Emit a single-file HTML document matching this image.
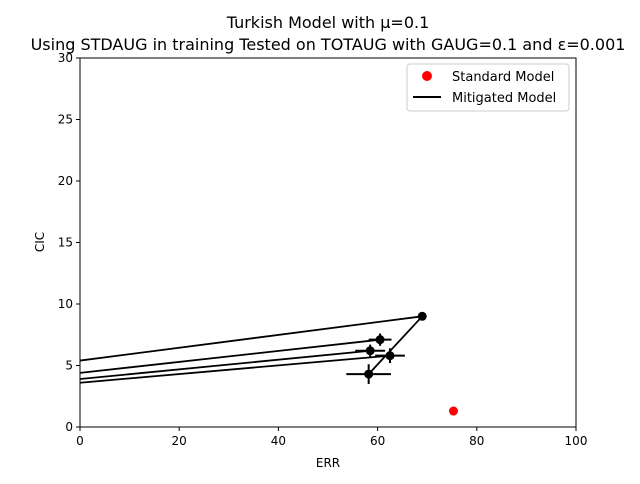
<!DOCTYPE html>
<html><head><meta charset="utf-8"><style>
body{margin:0;background:#fff;font-family:"DejaVu Sans","Liberation Sans",sans-serif}
svg text{font-family:"DejaVu Sans","Liberation Sans",sans-serif}
</style></head><body>
<svg id="c" width="640" height="480" xmlns="http://www.w3.org/2000/svg">
<rect width="640" height="480" fill="#fff"/>
<text x="328" y="28" text-anchor="middle" font-size="16">Turkish Model with μ=0.1</text>
<text x="328" y="50" text-anchor="middle" font-size="16">Using STDAUG in training Tested on TOTAUG with GAUG=0.1 and ε=0.001</text>
<defs><clipPath id="cp"><rect x="80" y="58" width="496" height="369"/></clipPath></defs>
<g id="plot" clip-path="url(#cp)"></g>
<g id="axes"></g>
<rect x="80" y="58" width="496" height="369" fill="none" stroke="#000" stroke-width="1"/>
<text x="328" y="467" text-anchor="middle" font-size="12">ERR</text>
<text transform="translate(44,242) rotate(-90)" text-anchor="middle" font-size="12">CIC</text>
<g>
<rect x="407" y="64" width="162" height="47" rx="3" fill="#fff" stroke="#ccc"/>
<circle cx="427" cy="76" r="5" fill="#ff0000"/>
<text x="452" y="81" font-size="13">Standard Model</text>
<line x1="413" y1="97" x2="441" y2="97" stroke="#000" stroke-width="2"/>
<text x="452" y="102" font-size="13">Mitigated Model</text>
</g>
</svg>
<script>
const xTicks=[0,20,40,60,80,100];
const yTicks=[0,5,10,15,20,25,30];
const segX1=[58.2,69,60.5,58.5,62.5];
const segY1=[4.3,9.0,7.1,6.2,5.8];
const segX2=[69,0,0,0,0];
const segY2=[9.0,5.4,4.4,3.9,3.6];
const ptX=[58.2,62.5,58.5,60.5,69];
const ptY=[4.3,5.8,6.2,7.1,9.0];
const errX=[4.5,3,3,2.3,0];
const errY=[0.8,0.6,0.5,0.5,0];
const stdX=[75.3];
const stdY=[1.3];
const sx=v=>80+v*4.96, sy=v=>427-v*12.3;
const NS="http://www.w3.org/2000/svg";
const plot=document.getElementById('plot'), axes=document.getElementById('axes');
function mk(p,t,a){const e=document.createElementNS(NS,t);for(const k in a)e.setAttribute(k,a[k]);p.appendChild(e);return e;}
xTicks.forEach(t=>{const g=mk(axes,'g',{});


mk(g,'line',{x1:sx(t),x2:sx(t),y1:427,y2:431,stroke:'#000'});
const tx=mk(g,'text',{x:sx(t),y:445,'text-anchor':'middle','font-size':12});tx.textContent=t;});
yTicks.forEach(t=>{const g=mk(axes,'g',{});


mk(g,'line',{x1:76,x2:80,y1:sy(t),y2:sy(t),stroke:'#000'});
const tx=mk(g,'text',{x:73,y:sy(t)+4,'text-anchor':'end','font-size':12});tx.textContent=t;});
segX1.forEach((x,i)=>{const l=mk(plot,'line',{x1:sx(x),y1:sy(segY1[i]),x2:sx(segX2[i]),y2:sy(segY2[i]),stroke:'#000','stroke-width':1.8});

});
ptX.forEach((x,i)=>{const g=mk(plot,'g',{});


if(errX[i])mk(g,'line',{x1:sx(x-errX[i]),x2:sx(x+errX[i]),y1:sy(ptY[i]),y2:sy(ptY[i]),stroke:'#000','stroke-width':2});
if(errY[i])mk(g,'line',{x1:sx(x),x2:sx(x),y1:sy(ptY[i]-errY[i]),y2:sy(ptY[i]+errY[i]),stroke:'#000','stroke-width':2});
mk(g,'circle',{cx:sx(x),cy:sy(ptY[i]),r:4.5,fill:'#000'});});
stdX.forEach((x,i)=>{const c=mk(plot,'circle',{cx:sx(x),cy:sy(stdY[i]),r:4.5,fill:'#ff0000'});

});
</script>
</body></html>
